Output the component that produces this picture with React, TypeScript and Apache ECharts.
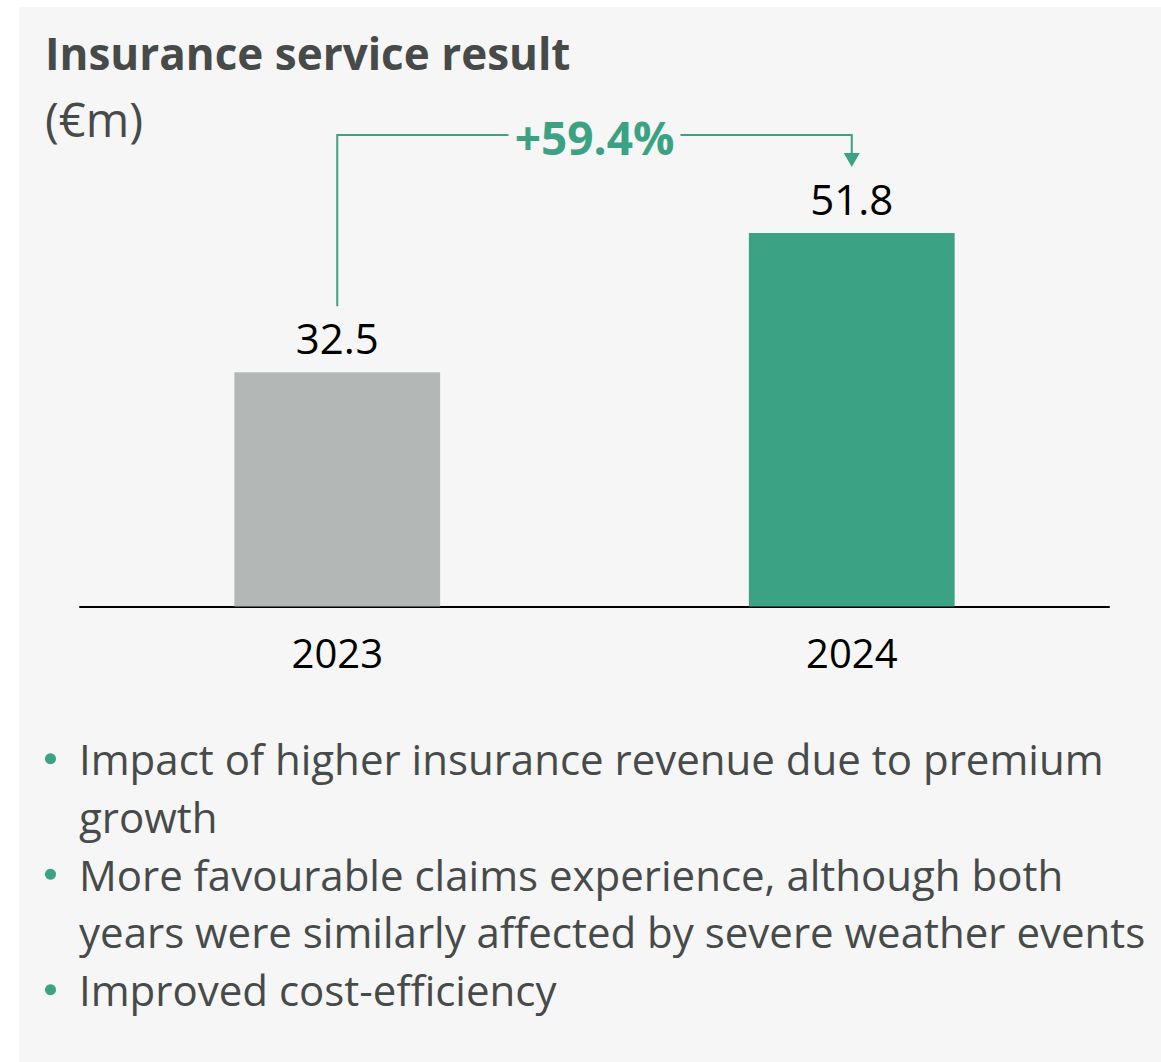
import React, { useEffect, useRef } from "react";
import * as echarts from "echarts";

const categories = ["2023", "2024"];
const values = [32.5, 51.8];
const barColors = ["#b3b8b7", "#3ca284"];
const growthLabel = "+59.4%";
const titleText = "Insurance service result";
const unitText = "(€m)";
const bullets: string[][] = [
  ["Impact of higher insurance revenue due to premium", "growth"],
  ["More favourable claims experience, although both", "years were similarly affected by severe weather events"],
  ["Improved cost-efficiency"],
];

const FONT = "'Open Sans', sans-serif";
const GREEN = "#3ca284";
const TEXT = "#464b4a";

export default function App() {
  const ref = useRef<HTMLDivElement>(null);
  useEffect(() => {
    document.body.style.margin = "0";
    const chart = echarts.init(ref.current!, null, { renderer: "svg" });

    const baseGraphics: any[] = [
      {
        type: "rect",
        z: -100,
        silent: true,
        shape: { x: 19, y: 7, width: 1142, height: 1055 },
        style: { fill: "#f6f6f6" },
      },
      {
        type: "text",
        x: 45,
        y: 53,
        style: {
          text: titleText,
          fontFamily: FONT,
          fontWeight: "bold",
          fontSize: 44,
          fill: TEXT,
          verticalAlign: "middle",
          align: "left",
        },
      },
      {
        type: "text",
        x: 45,
        y: 119,
        style: {
          text: unitText,
          fontFamily: FONT,
          fontSize: 47,
          fill: TEXT,
          verticalAlign: "middle",
          align: "left",
        },
      },
    ];

    let line = 0;
    bullets.forEach((b) => {
      b.forEach((t, j) => {
        const y = 758.7 + line * 57.75;
        if (j === 0) {
          baseGraphics.push({
            type: "circle",
            shape: { cx: 50.5, cy: y, r: 5.5 },
            style: { fill: GREEN },
          });
        }
        baseGraphics.push({
          type: "text",
          x: 79,
          y,
          style: {
            text: t,
            fontFamily: FONT,
            fontSize: 42,
            fill: TEXT,
            verticalAlign: "middle",
            align: "left",
          },
        });
        line++;
      });
    });

    const option: any = {
      animation: false,
      backgroundColor: "#ffffff",
      grid: { left: 80, right: 52, top: 174, bottom: 455.5 },
      xAxis: {
        type: "category",
        data: categories,
        axisLine: { show: true, lineStyle: { color: "#000", width: 2 } },
        axisTick: { show: false },
        axisLabel: { fontFamily: FONT, fontSize: 40, color: "#000", margin: 26 },
      },
      yAxis: { type: "value", min: 0, max: 60, show: false, splitLine: { show: false } },
      series: [
        {
          type: "bar",
          barWidth: "40%",
          data: values.map((v, i) => ({ value: v, itemStyle: { color: barColors[i] } })),
          label: {
            show: true,
            position: "top",
            distance: 14,
            fontFamily: FONT,
            fontSize: 42,
            color: "#000",
          },
        },
      ],
      graphic: baseGraphics,
    };
    chart.setOption(option);

    const p0 = chart.convertToPixel({ gridIndex: 0 }, [0, values[0]]) as number[];
    const p1 = chart.convertToPixel({ gridIndex: 0 }, [1, values[1]]) as number[];
    const lineY = 135;
    const gap = 66;
    const midX = (p0[0] + p1[0]) / 2;
    const halfGap = 86;
    const lineStyle = { stroke: GREEN, lineWidth: 2 };
    const connectors: any[] = [
      { type: "polyline", shape: { points: [[p0[0], p0[1] - gap], [p0[0], lineY], [midX - halfGap, lineY]] }, style: { ...lineStyle, fill: null } },
      { type: "polyline", shape: { points: [[midX + halfGap, lineY], [p1[0], lineY], [p1[0], p1[1] - gap - 14]] }, style: { ...lineStyle, fill: null } },
      {
        type: "polygon",
        shape: { points: [[p1[0] - 8, p1[1] - gap - 14], [p1[0] + 8, p1[1] - gap - 14], [p1[0], p1[1] - gap]] },
        style: { fill: GREEN },
      },
      {
        type: "text",
        x: midX,
        y: 137,
        style: {
          text: growthLabel,
          fontFamily: FONT,
          fontWeight: "bold",
          fontSize: 46,
          fill: GREEN,
          verticalAlign: "middle",
          align: "center",
        },
      },
    ];
    chart.setOption({ graphic: [...baseGraphics, ...connectors] });

    return () => chart.dispose();
  }, []);
  return <div ref={ref} style={{ width: 1161, height: 1062 }} />;
}
